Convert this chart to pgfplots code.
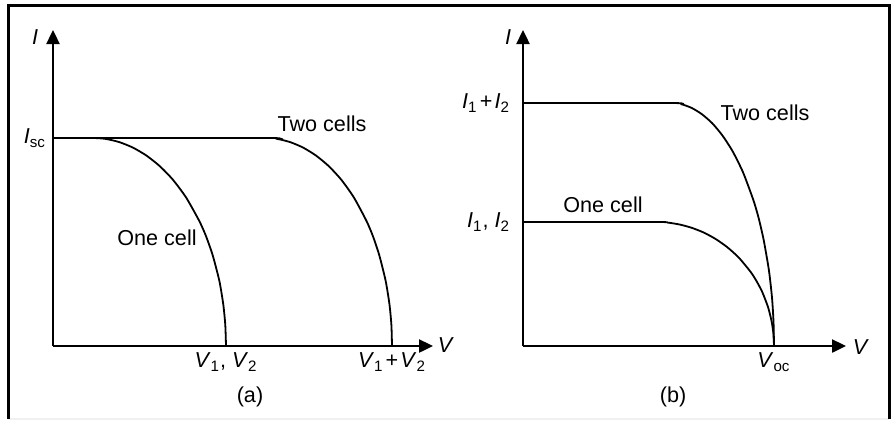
\documentclass[border=0pt]{standalone}
\usepackage{pgfplots}
\pgfplotsset{compat=1.18}
\usepackage{fontspec}
\setmainfont{Liberation Sans}
\usetikzlibrary{arrows.meta}

\newcommand{\lbl}{\fontsize{10.8}{13}\selectfont}

\pgfplotsset{
  ivcurve/.style={
    x=0.5pt, y=0.5pt,
    anchor=south west,
    axis lines=left,
    axis line style={line width=1.2pt, -{Triangle[length=7pt,width=6.5pt]}},
    xmin=0, ymin=0, ymax=316,
    major tick length=0pt,
    tick style={draw=none},
    ticklabel style={font=\lbl},
    clip=false,
    every axis plot/.append style={line width=0.9pt, black, no markers},
  }
}

\begin{document}
\begin{tikzpicture}[x=0.5pt, y=0.5pt, font=\lbl]
\useasboundingbox (0,0) rectangle (893,420);
\draw[black!6, line width=0.6pt] (8,1) -- (889,1);
\draw[line width=1.5pt] (8,1) -- (8,415) -- (889,415) -- (889,1);

% (a) cells in series
\begin{axis}[ivcurve, at={(53,74)}, xmax=380,
    xtick={173,339},
    xticklabels={{\textit{V}\textsubscript{1}, \textit{V}\textsubscript{2}},
                 {\textit{V}\textsubscript{1}\kern0.1em+\kern0.1em\textit{V}\textsubscript{2}}},
    ytick={208},
    yticklabels={{\textit{I}\textsubscript{sc}}},
]
\addplot[smooth, tension=0.4] coordinates {
  (0,208) (40,208) (53.3,207.0) (66.6,203.8) (79.9,198.4) (93.2,190.6)
  (106.5,180.1) (119.8,166.4) (133.1,148.5) (146.4,124.8) (153.1,109.6)
  (159.7,90.7) (166.4,64.9) (170.3,41.4) (172.3,20.8) (173,0)
};
\addplot[smooth, tension=0.4] coordinates {
  (0,208) (212,208) (224.7,207.0) (237.4,203.8) (250.1,198.4) (262.8,190.6)
  (275.5,180.1) (288.2,166.4) (300.9,148.5) (313.6,124.8) (320.0,109.6)
  (326.3,90.7) (332.7,64.9) (336.5,41.4) (338.4,20.8) (339,0)
};
\node at (axis cs:-18,309) {\textit{I}};
\node at (axis cs:393,1) {\textit{V}};
\node at (axis cs:269,222) {Two cells};
\node at (axis cs:104,108) {One cell};
\end{axis}

% (b) cells in parallel
\begin{axis}[ivcurve, at={(523,74)}, xmax=323,
    xtick={251},
    xticklabels={{\textit{V}\textsubscript{oc}}},
    ytick={124,243},
    yticklabels={{\textit{I}\textsubscript{1}, \textit{I}\textsubscript{2}},
                 {\textit{I}\textsubscript{1}\kern0.1em+\kern0.1em\textit{I}\textsubscript{2}}},
    yticklabel style={xshift=-3pt},
]
\addplot[smooth, tension=0.4] coordinates {
  (0,243) (148,243) (158.3,241.8) (168.6,238.1) (178.9,231.8) (189.2,222.8)
  (199.5,210.4) (209.8,194.4) (220.1,173.5) (230.4,145.8) (235.6,128.1)
  (240.7,105.9) (245.9,75.8) (249.0,48.4) (250.5,24.3) (251,0)
};
\addplot[smooth, tension=0.4] coordinates {
  (0,124) (133,124) (144.8,123.4) (156.6,121.5) (168.4,118.3) (180.2,113.7)
  (192.0,107.4) (203.8,99.2) (215.6,88.6) (227.4,74.4) (233.3,65.3)
  (239.2,54.1) (245.1,38.7) (248.6,24.7) (250.4,12.4) (251,0)
};
\node at (axis cs:-15,309) {\textit{I}};
\node at (axis cs:338,-1) {\textit{V}};
\node at (axis cs:242,233) {Two cells};
\node at (axis cs:80,141) {One cell};
\end{axis}

\node at (250,23) {(a)};
\node at (673,23) {(b)};
\end{tikzpicture}
\end{document}
